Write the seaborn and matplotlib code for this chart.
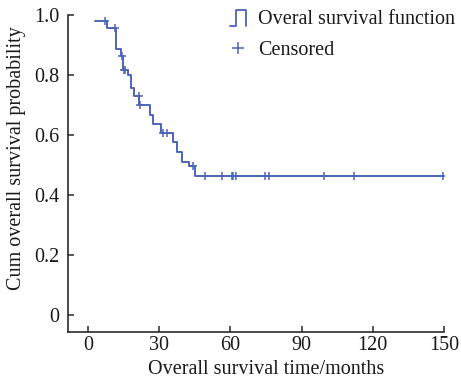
import numpy as np
import pandas as pd
import seaborn as sns
import matplotlib
matplotlib.use("Agg")
import matplotlib.pyplot as plt
from matplotlib.lines import Line2D
from matplotlib.legend_handler import HandlerBase

# ---- data ----
event_times = [3.0, 8.1, 11.8, 13.8, 14.9, 17.0, 18.0, 19.5, 21.5, 26.1, 27.2,
               30.8, 36.0, 37.6, 39.7, 42.7, 45.1]
survival = [0.981, 0.957, 0.885, 0.864, 0.817, 0.800, 0.756, 0.731, 0.700,
            0.667, 0.637, 0.606, 0.575, 0.542, 0.509, 0.498, 0.462]
follow_up_end = 150.0
censored_times = [7.2, 11.4, 14.3, 15.3, 15.8, 21.3, 22.0, 31.6, 33.4, 44.4,
                  49.5, 56.3, 60.5, 61.2, 62.2, 74.5, 76.3, 99.4, 112.1, 149.7]
x_ticks = [0, 30, 60, 90, 120, 150]
y_ticks = [0, 0.2, 0.4, 0.6, 0.8, 1.0]
y_tick_labels = ["0", "0.2", "0.4", "0.6", "0.8", "1.0"]

BLUE = "#4d65b4"
TXT = "#1a1a1a"
FS = 14.5

sns.set_theme(style="white")
plt.rcParams["font.family"] = ["Liberation Serif", "DejaVu Serif"]

curve = pd.DataFrame({
    "time": event_times + [follow_up_end],
    "surv": survival + [survival[-1]],
})
idx = np.searchsorted(np.array(event_times), np.array(censored_times), side="right") - 1
cens = pd.DataFrame({"time": censored_times,
                     "surv": np.array(survival)[idx]})

fig = plt.figure(figsize=(4.61, 3.83), dpi=100)
ax = fig.add_axes([68 / 461, 1 - 331.7 / 383, (444 - 68) / 461, (331.7 - 15) / 383])

sns.lineplot(data=curve, x="time", y="surv", ax=ax, color=BLUE, lw=1.4,
             drawstyle="steps-post", estimator=None, sort=True)
sns.scatterplot(data=cens, x="time", y="surv", ax=ax, marker="+", color=BLUE,
                s=40, linewidth=1.1, zorder=3)

ax.set_xlim(-8.4, 150)
ax.set_ylim(-0.056, 1.0)
ax.set_xticks(x_ticks)
ax.set_xticklabels([str(v) for v in x_ticks])
ax.set_yticks(y_ticks)
ax.set_yticklabels(y_tick_labels)

for side in ["top", "right"]:
    ax.spines[side].set_visible(False)
for side in ["left", "bottom"]:
    ax.spines[side].set_color("#2a2a2a")
    ax.spines[side].set_linewidth(1.2)

ax.tick_params(axis="both", direction="in", length=4, width=1.1, color="#2a2a2a",
               labelsize=FS, labelcolor=TXT)
ax.tick_params(axis="y", pad=6, left=True)
ax.tick_params(axis="x", pad=3, bottom=True)

ax.set_xlabel("Overall survival time/months", fontsize=FS, color=TXT)
ax.set_ylabel("Cum overall survival probability", fontsize=FS, color=TXT)
ax.xaxis.set_label_coords(0.527, -0.09)
ax.yaxis.set_label_coords(-0.113, 0.548)


class StepHandler(HandlerBase):
    def create_artists(self, legend, orig_handle, xdescent, ydescent, width,
                       height, fontsize, trans):
        x0, y0 = -xdescent, -ydescent - 0.1 * height
        h = height * 1.1
        xs = [x0, x0 + 0.35 * width, x0 + 0.35 * width, x0 + width, x0 + width]
        ys = [y0, y0, y0 + h, y0 + h, y0]
        ln = Line2D(xs, ys, color=orig_handle.get_color(),
                    lw=orig_handle.get_linewidth(), transform=trans)
        return [ln]


h_line = Line2D([], [], color=BLUE, lw=1.3)
h_cens = Line2D([], [], color=BLUE, marker="+", ls="none", markersize=9,
                markeredgewidth=1.1)
leg = ax.legend([h_line, h_cens], ["Overal survival function", "Censored"],
                handler_map={h_line: StepHandler()},
                loc="upper left", bbox_to_anchor=(230 / 461, 1 - 10 / 383),
                bbox_transform=fig.transFigure, frameon=False, fontsize=FS,
                handlelength=0.8, handletextpad=0.6, labelspacing=0.6,
                borderpad=0, borderaxespad=0)
for t in leg.get_texts():
    t.set_color(TXT)

fig.savefig("out.png", dpi=100)
